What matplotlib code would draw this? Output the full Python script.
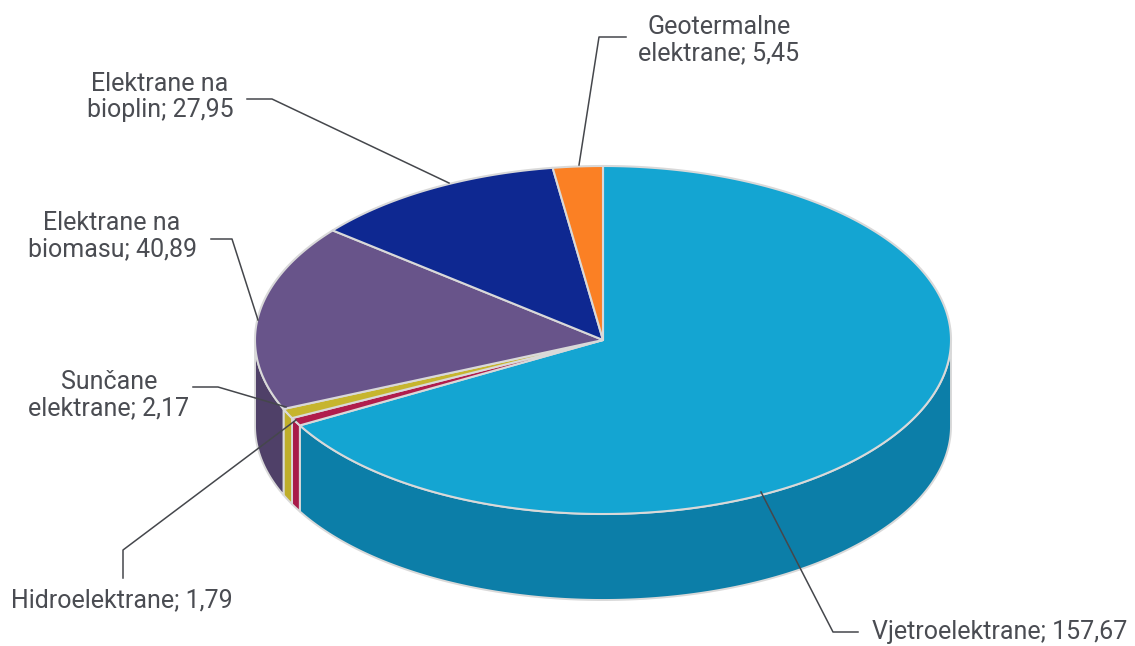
import numpy as np
import matplotlib
matplotlib.use('Agg')
import matplotlib.pyplot as plt

plt.rcParams['font.family'] = ['Roboto', 'DejaVu Sans']

# Data, clockwise from the top of the pie
names = ['Vjetroelektrane', 'Hidroelektrane', 'Sunčane elektrane',
         'Elektrane na biomasu', 'Elektrane na bioplin', 'Geotermalne elektrane']
values = [157.67, 1.79, 2.17, 40.89, 27.95, 5.45]
top_colors = ['#14a5d2', '#b01d4c', '#c6b52e', '#68548a', '#0e2891', '#fb8024']
side_colors = ['#0c7ea8', '#a81b48', '#bfae2a', '#4f4068', '#0e2891', '#fb8024']
label_texts = ['Vjetroelektrane; 157,67', 'Hidroelektrane; 1,79', 'Sunčane\nelektrane; 2,17',
               'Elektrane na\nbiomasu; 40,89', 'Elektrane na\nbioplin; 27,95', 'Geotermalne\nelektrane; 5,45']

# Label positions and leader lines in pixels
label_pos = [(1000, 632), (122, 600), (109, 395), (112, 236), (160, 97), (719, 40)]
leaders = [[(858, 632), (833, 632), (761, 492)],
           [(123, 578), (123, 550), (296, 420)],
           [(193, 387), (218, 387), (286, 407)],
           [(211, 239), (232, 239), (258, 320)],
           [(247, 99), (272, 99), (449, 183)],
           [(626, 37), (599, 37), (579, 165)]]

cx, cy, rx, ry, depth = 603, 340, 348, 174, 86
edge = '#d9d9d9'


def rim(t0, t1):
    t = np.radians(np.linspace(t0, t1, max(int(abs(t1 - t0) * 2), 2)))
    return cx + rx * np.sin(t), cy - ry * np.cos(t)


fig = plt.figure(figsize=(11.35, 6.46), dpi=100)
ax = fig.add_axes([0, 0, 1, 1])
ax.set_xlim(0, 1135)
ax.set_ylim(646, 0)
ax.axis('off')

angles = np.concatenate([[0], np.cumsum(values) / np.sum(values) * 360])

# Side walls, only the front part (90..270 degrees) is visible
for i in range(len(values)):
    a0, a1 = max(angles[i], 90), min(angles[i + 1], 270)
    if a1 <= a0:
        continue
    x, y = rim(a0, a1)
    ax.fill(np.r_[x, x[::-1]], np.r_[y, y[::-1] + depth],
            fc=side_colors[i], ec=edge, lw=1.4, joinstyle='round', zorder=2)

# Top faces
for i in range(len(values)):
    x, y = rim(angles[i], angles[i + 1])
    ax.fill(np.r_[cx, x], np.r_[cy, y], fc=top_colors[i], ec=edge, lw=1.5,
            joinstyle='round', zorder=3)

# Leader lines and labels
for pts, pos, txt in zip(leaders, label_pos, label_texts):
    ax.plot([p[0] for p in pts], [p[1] for p in pts], color='#45474c', lw=1.1, zorder=4)
    ax.text(pos[0], pos[1], txt, ha='center', va='center', fontsize=18,
            color='#4a4c52', linespacing=1.12, zorder=5)

fig.savefig('out.png', dpi=100)
